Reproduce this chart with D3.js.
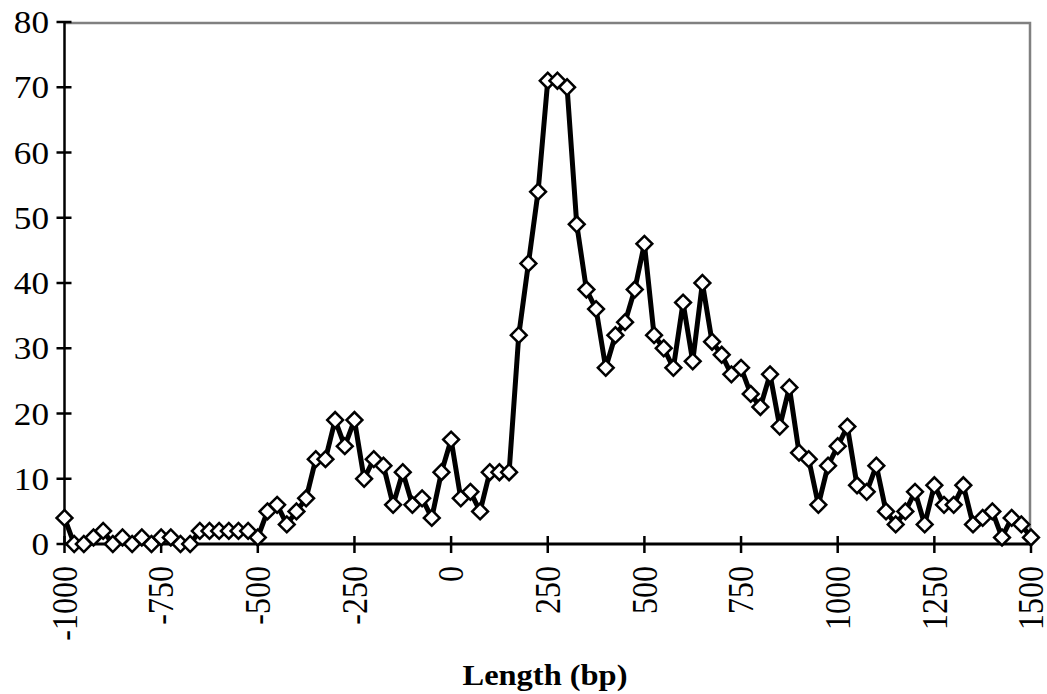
<!DOCTYPE html>
<html>
<head>
<meta charset="utf-8">
<script src="https://cdn.jsdelivr.net/npm/d3@7"></script>
<style>
  html, body { margin: 0; padding: 0; background: #ffffff; }
  svg { display: block; }
  text { font-family: "Liberation Serif", "Times New Roman", serif; fill: #000; }
</style>
</head>
<body>
<div id="chart"></div>
<script>
// Position relative to the reference site (bp)
const lengths = [
  -1000, -975, -950, -925, -900, -875, -850, -825, -800, -775,
  -750, -725, -700, -675, -650, -625, -600, -575, -550, -525,
  -500, -475, -450, -425, -400, -375, -350, -325, -300, -275,
  -250, -225, -200, -175, -150, -125, -100, -75, -50, -25,
  0, 25, 50, 75, 100, 125, 150, 175, 200, 225,
  250, 275, 300, 325, 350, 375, 400, 425, 450, 475,
  500, 525, 550, 575, 600, 625, 650, 675, 700, 725,
  750, 775, 800, 825, 850, 875, 900, 925, 950, 975,
  1000, 1025, 1050, 1075, 1100, 1125, 1150, 1175, 1200, 1225,
  1250, 1275, 1300, 1325, 1350, 1375, 1400, 1425, 1450, 1475,
  1500
];

// Counts per bin
const counts = [
  4, 0, 0, 1, 2, 0, 1, 0, 1, 0,
  1, 1, 0, 0, 2, 2, 2, 2, 2, 2,
  1, 5, 6, 3, 5, 7, 13, 13, 19, 15,
  19, 10, 13, 12, 6, 11, 6, 7, 4, 11,
  16, 7, 8, 5, 11, 11, 11, 32, 43, 54,
  71, 71, 70, 49, 39, 36, 27, 32, 34, 39,
  46, 32, 30, 27, 37, 28, 40, 31, 29, 26,
  27, 23, 21, 26, 18, 24, 14, 13, 6, 12,
  15, 18, 9, 8, 12, 5, 3, 5, 8, 3,
  9, 6, 6, 9, 3, 4, 5, 1, 4, 3,
  1
];

const xTicks = [-1000, -750, -500, -250, 0, 250, 500, 750, 1000, 1250, 1500];
const yTicks = [0, 10, 20, 30, 40, 50, 60, 70, 80];
const xTitle = "Length (bp)";

const W = 1047, H = 694;
const plot = { left: 64.5, right: 1031, top: 22, bottom: 544 };
const fontSize = 32;
const stretch = 1.1;

const svg = d3.select("#chart").append("svg")
  .attr("width", W).attr("height", H);

const x = d3.scaleLinear().domain([-1000, 1500]).range([plot.left, plot.right]);
const y = d3.scaleLinear().domain([0, 80]).range([plot.bottom, plot.top]);

// grey frame on top and right
svg.append("path")
  .attr("d", `M${plot.left},${plot.top + 1}H${plot.right - 1}V${plot.bottom}`)
  .attr("fill", "none")
  .attr("stroke", "#808080")
  .attr("stroke-width", 2.5);

// y axis
const yAxis = svg.append("g");
yAxis.append("line")
  .attr("x1", plot.left).attr("x2", plot.left)
  .attr("y1", y(80)).attr("y2", y(0))
  .attr("stroke", "#000").attr("stroke-width", 2.5);
yAxis.selectAll("line.tick").data(yTicks).join("line")
  .attr("class", "tick")
  .attr("x1", plot.left - 8).attr("x2", plot.left + 7)
  .attr("y1", d => y(d)).attr("y2", d => y(d))
  .attr("stroke", "#000").attr("stroke-width", 2.5);
yAxis.selectAll("text").data(yTicks).join("text")
  .attr("transform", d => `translate(49,${y(d)}) scale(${stretch},1)`)
  .attr("dy", "0.35em")
  .attr("text-anchor", "end")
  .attr("font-size", fontSize)
  .text(d => d);

// x axis
const xAxis = svg.append("g");
xAxis.append("line")
  .attr("x1", plot.left).attr("x2", plot.right)
  .attr("y1", plot.bottom).attr("y2", plot.bottom)
  .attr("stroke", "#000").attr("stroke-width", 2.8);
xAxis.selectAll("line.tick").data(xTicks).join("line")
  .attr("class", "tick")
  .attr("x1", d => x(d)).attr("x2", d => x(d))
  .attr("y1", plot.bottom - 8).attr("y2", plot.bottom + 9)
  .attr("stroke", "#000").attr("stroke-width", 2.5);
xAxis.selectAll("text").data(xTicks).join("text")
  .attr("transform", d => `translate(${x(d)},566) scale(${stretch},1) rotate(-90)`)
  .attr("dy", "0.35em")
  .attr("text-anchor", "end")
  .attr("font-size", fontSize)
  .text(d => d);

svg.append("text")
  .attr("transform", `translate(545,685) scale(1.1,1)`)
  .attr("text-anchor", "middle")
  .attr("font-size", 29.5)
  .attr("font-weight", "bold")
  .text(xTitle);

// series line
const data = lengths.map((l, i) => ({ l, c: counts[i] }));
const line = d3.line().x(d => x(d.l)).y(d => y(d.c));
svg.append("path")
  .datum(data)
  .attr("d", line)
  .attr("fill", "none")
  .attr("stroke", "#000")
  .attr("stroke-width", 5)
  .attr("stroke-linejoin", "round");

// diamond markers
const diamond = d3.symbol().type(d3.symbolSquare).size(125);
svg.append("g").selectAll("path").data(data).join("path")
  .attr("d", diamond)
  .attr("transform", d => `translate(${x(d.l)},${y(d.c)}) rotate(45)`)
  .attr("fill", "#fff")
  .attr("stroke", "#000")
  .attr("stroke-width", 2.5);
</script>
</body>
</html>
